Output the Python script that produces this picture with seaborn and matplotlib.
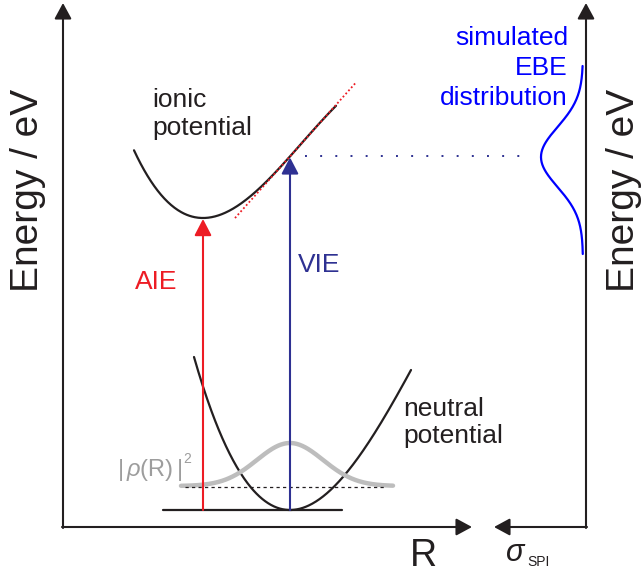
import numpy as np
import pandas as pd
import matplotlib
matplotlib.use("Agg")
import matplotlib.pyplot as plt
import seaborn as sns

# ---- scheme parameters (canvas units, y grows downward) ----
# potential curves: vertex position, quadratic and cubic stiffness, plotted range
ionic_vertex = (203, 218)
ionic_coef = (0.01153, -3.90e-5)
ionic_range = (134, 336)

neutral_vertex = (290, 510)
neutral_coef = (0.013488, -3.244e-5)
neutral_range = (194, 411)

# vertical transition geometry
vie_x = 290
tangent_range = (235, 356)

# ground-state probability density |rho(R)|^2
density_center = 290
density_sigma = 33
density_height = 43
density_base = 486
density_range = (181, 393)

# simulated EBE distribution drawn against the right energy axis
ebe_center = 157
ebe_sigma = 30
ebe_width = 42
ebe_axis = 583
ebe_range = (66, 254)

ink = "#231f20"
red = "#ed1c24"
navy = "#2e3192"
blue = "#0000ff"
grey = "#bdbdbd"

sns.set_theme(style="white")
plt.rcParams["font.family"] = ["Liberation Sans", "DejaVu Sans"]
plt.rcParams["mathtext.fontset"] = "custom"
plt.rcParams["mathtext.rm"] = "Liberation Sans"
plt.rcParams["mathtext.it"] = "Liberation Sans:italic"
plt.rcParams["mathtext.sf"] = "Liberation Sans"

fig = plt.figure(figsize=(6.42, 5.74), dpi=100)
ax = fig.add_axes([0, 0, 1, 1])
ax.set_xlim(0, 642)
ax.set_ylim(574, 0)
ax.axis("off")


def potential(vertex, coef, xr):
    x = np.linspace(xr[0], xr[1], 300)
    dx = x - vertex[0]
    e = coef[0] * dx ** 2 + coef[1] * dx ** 3
    return pd.DataFrame({"R": x, "E": vertex[1] - e})


ionic = potential(ionic_vertex, ionic_coef, ionic_range)
neutral = potential(neutral_vertex, neutral_coef, neutral_range)

sns.lineplot(data=ionic, x="R", y="E", ax=ax, color=ink, lw=1.6,
             sort=False, estimator=None)
sns.lineplot(data=neutral, x="R", y="E", ax=ax, color=ink, lw=1.6,
             sort=False, estimator=None)

# tangent of the ionic curve at the vertical geometry
dxv = vie_x - ionic_vertex[0]
e_v = ionic_coef[0] * dxv ** 2 + ionic_coef[1] * dxv ** 3
y_v = ionic_vertex[1] - e_v
slope = 2 * ionic_coef[0] * dxv + 3 * ionic_coef[1] * dxv ** 2
tx = np.array(tangent_range, dtype=float)
ty = y_v - slope * (tx - vie_x)
ax.plot(tx, ty, color=red, lw=1.3, linestyle=(0, (1, 1.3)))

# probability density of the neutral ground state
xd = np.linspace(density_range[0], density_range[1], 300)
yd = density_base - density_height * np.exp(-(xd - density_center) ** 2 / (2 * density_sigma ** 2))
sns.lineplot(x=xd, y=yd, ax=ax, color=grey, lw=3.2, sort=False, estimator=None)
ax.plot([185, 385], [487, 487], color=ink, lw=0.9, linestyle=(0, (2.6, 2.6)))

# zero-point level
ax.plot([163, 342], [neutral_vertex[1]] * 2, color=ink, lw=1.6)

# AIE / VIE transitions
arrow_kw = dict(arrowstyle="-|>,head_length=0.5,head_width=0.26", mutation_scale=20,
                shrinkA=0, shrinkB=0, lw=1.5)
ax.annotate("", xy=(ionic_vertex[0], ionic_vertex[1] + 1), xytext=(ionic_vertex[0], neutral_vertex[1]),
            arrowprops=dict(color=red, **arrow_kw))
ax.annotate("", xy=(vie_x, y_v + 1), xytext=(vie_x, neutral_vertex[1]),
            arrowprops=dict(color=navy, **arrow_kw))

# projection of the VIE onto the right axis
ax.plot([305, 530], [y_v, y_v], color=navy, lw=1.4, linestyle=(0, (1, 6.8)))

# simulated EBE distribution
ye = np.linspace(ebe_range[0], ebe_range[1], 300)
xe = ebe_axis - ebe_width * np.exp(-(ye - ebe_center) ** 2 / (2 * ebe_sigma ** 2))
sns.lineplot(x=xe, y=ye, ax=ax, color=blue, lw=1.6, sort=False, estimator=None)

# axes with arrowheads
axis_kw = dict(arrowstyle="-|>,head_length=0.48,head_width=0.26", mutation_scale=20,
               shrinkA=0, shrinkB=0, lw=1.5, color=ink)
ax.annotate("", xy=(63, 3), xytext=(63, 528), arrowprops=axis_kw)
ax.annotate("", xy=(472, 527), xytext=(62, 527), arrowprops=axis_kw)
ax.annotate("", xy=(586, 3), xytext=(586, 528), arrowprops=axis_kw)
ax.annotate("", xy=(494, 527), xytext=(587, 527), arrowprops=axis_kw)

# labels
ax.text(28, 190, "Energy / eV", rotation=90, ha="center", va="center",
        fontsize=28, color=ink)
ax.text(624, 190, "Energy / eV", rotation=90, ha="center", va="center",
        fontsize=28, color=ink)
ax.text(423, 566, "R", ha="center", va="baseline", fontsize=27, color=ink)
ax.text(505, 561, r"$\sigma$", ha="left", va="baseline", fontsize=22, color=ink)
ax.text(527, 566, "SPI", ha="left", va="baseline", fontsize=10, color=ink)

ax.text(152, 107, "ionic", ha="left", va="baseline", fontsize=19, color=ink)
ax.text(152, 135, "potential", ha="left", va="baseline", fontsize=19, color=ink)
ax.text(403, 416, "neutral", ha="left", va="baseline", fontsize=19, color=ink)
ax.text(403, 443, "potential", ha="left", va="baseline", fontsize=19, color=ink)

ax.text(135, 289, "AIE", ha="left", va="baseline", fontsize=19, color=red)
ax.text(298, 272, "VIE", ha="left", va="baseline", fontsize=19, color=navy)

ax.text(117, 476, r"$|\,\rho(\mathrm{R})\,|$", ha="left", va="baseline",
        fontsize=17, color="#9d9d9d")
ax.text(183, 463, "2", ha="left", va="baseline", fontsize=10, color="#9d9d9d")

for txt, yb in zip(["simulated", "EBE", "distribution"], [45, 75, 105]):
    ax.text(568, yb, txt, ha="right", va="baseline", fontsize=19, color=blue)

fig.savefig("out.png", dpi=100)
